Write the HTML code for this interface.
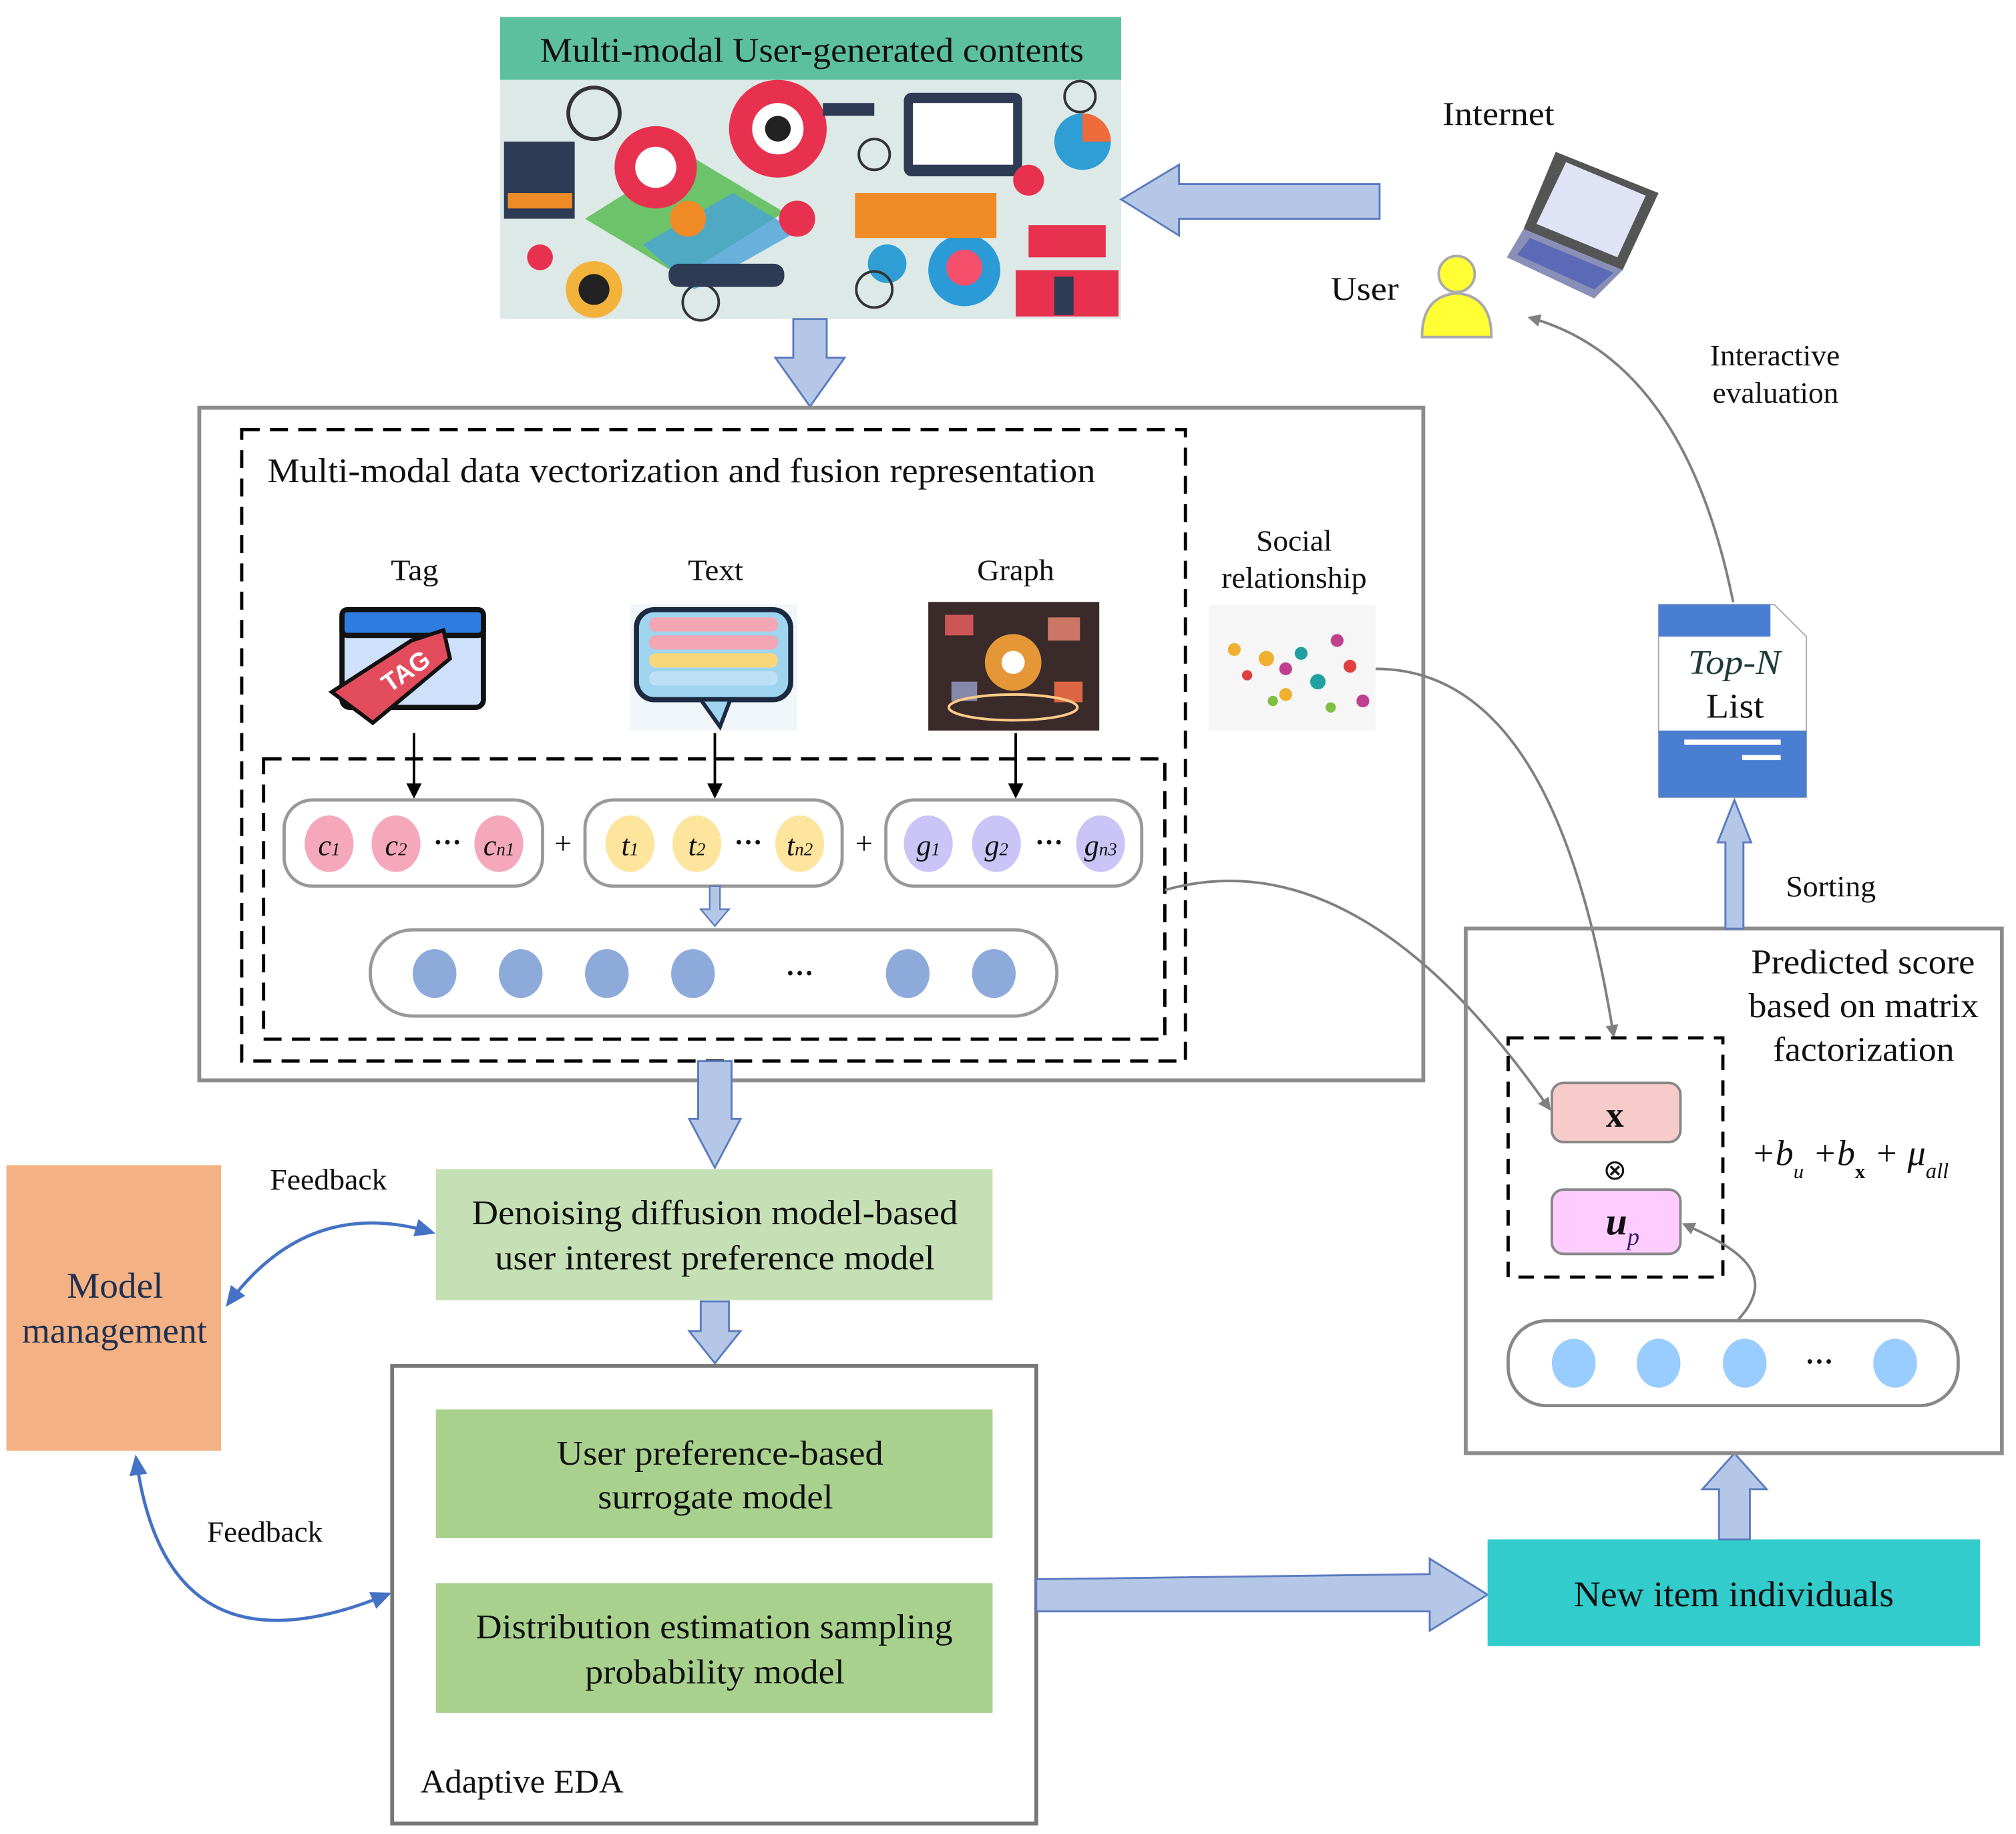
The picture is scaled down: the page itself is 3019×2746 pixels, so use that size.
<!DOCTYPE html>
<html><head><meta charset="utf-8"><style>
html,body{margin:0;padding:0;background:#fff}
svg{display:block}
text{font-family:"Liberation Serif",serif;fill:#111}
</style></head><body>
<svg width="3019" height="2746" viewBox="0 0 1568 1426" xmlns="http://www.w3.org/2000/svg">
<defs>
<marker id="ag" markerWidth="10" markerHeight="10" refX="8" refY="5" orient="auto" markerUnits="userSpaceOnUse"><path d="M0,0 L10,5 L0,10 Z" fill="#808080"/></marker>
<marker id="ak" markerWidth="12" markerHeight="12" refX="10" refY="6" orient="auto" markerUnits="userSpaceOnUse"><path d="M0,0 L12,6 L0,12 Z" fill="#000"/></marker>
<marker id="ab" markerWidth="16" markerHeight="16" refX="12" refY="8" orient="auto" markerUnits="userSpaceOnUse"><path d="M0,1 L16,8 L0,15 Z" fill="#4472c4"/></marker>
<marker id="abs" markerWidth="16" markerHeight="16" refX="4" refY="8" orient="auto" markerUnits="userSpaceOnUse"><path d="M16,1 L0,8 L16,15 Z" fill="#4472c4"/></marker>
</defs>

<rect x="389" y="13" width="483" height="49" fill="#5cc09e"/>
<text x="420" y="48" font-size="27" textLength="423" lengthAdjust="spacingAndGlyphs">Multi-modal User-generated contents</text>
<rect x="389" y="62" width="483" height="186" fill="#dde9e6"/>
<path d="M455,170 L535,120 L610,165 L530,215 Z" fill="#6cc36a"/>
<path d="M500,190 L570,150 L620,180 L540,225 Z" fill="#4aa3d8" opacity="0.8"/>
<circle cx="605" cy="100" r="38" fill="#e8314f"/><circle cx="605" cy="100" r="20" fill="#fff"/><circle cx="605" cy="100" r="10" fill="#222"/>
<circle cx="510" cy="130" r="32" fill="#e8314f"/><circle cx="510" cy="130" r="16" fill="#fff"/>
<circle cx="750" cy="210" r="28" fill="#2a9bd6"/><circle cx="750" cy="208" r="14" fill="#f5506b"/>
<circle cx="462" cy="225" r="22" fill="#f3b23a"/><circle cx="462" cy="225" r="12" fill="#222"/>
<circle cx="462" cy="88" r="20" fill="none" stroke="#333" stroke-width="3"/>
<circle cx="842" cy="110" r="22" fill="#2e9ed5"/><path d="M842,110 L842,88 A22,22 0 0 1 864,110 Z" fill="#f06b3c"/>
<rect x="703" y="72" width="92" height="65" rx="6" fill="#2e3b55"/><rect x="710" y="80" width="78" height="48" fill="#fff"/>
<rect x="665" y="150" width="110" height="35" fill="#f08a25"/><rect x="800" y="175" width="60" height="25" fill="#e8314f"/>
<rect x="392" y="110" width="55" height="60" fill="#2e3b55"/><rect x="395" y="150" width="50" height="12" fill="#f08a25"/>
<circle cx="535" cy="170" r="14" fill="#f08a25"/><circle cx="620" cy="170" r="14" fill="#e8314f"/>
<circle cx="690" cy="205" r="15" fill="#2e9ed5"/><circle cx="800" cy="140" r="12" fill="#e8314f"/>
<rect x="790" y="210" width="80" height="36" fill="#e8314f"/><rect x="820" y="215" width="15" height="30" fill="#2e3b55"/>
<circle cx="545" cy="235" r="14" fill="none" stroke="#333" stroke-width="2"/>
<circle cx="680" cy="225" r="14" fill="none" stroke="#333" stroke-width="2"/>
<rect x="520" y="205" width="90" height="18" rx="8" fill="#2e3b55"/>
<circle cx="420" cy="200" r="10" fill="#e8314f"/><circle cx="680" cy="120" r="12" fill="none" stroke="#333" stroke-width="2"/>
<circle cx="840" cy="75" r="12" fill="none" stroke="#333" stroke-width="2"/><rect x="640" y="80" width="40" height="10" fill="#2e3b55"/>

<path d="M1073,143 L917,143 L917,128 L872,155 L917,183 L917,170 L1073,170 Z" fill="#b4c7e7" stroke="#5b7bbf" stroke-width="1.5"/>
<text x="1122" y="97" font-size="26" textLength="87" lengthAdjust="spacingAndGlyphs">Internet</text>
<path d="M1210,118 L1290,150 L1262,210 L1185,178 Z" fill="#555"/>
<path d="M1218,126 L1280,152 L1258,200 L1195,174 Z" fill="#dfe3f5"/>
<path d="M1185,178 L1262,210 L1240,232 L1172,200 Z" fill="#8a8fb8"/>
<path d="M1190,185 L1255,212 L1240,225 L1180,198 Z" fill="#5b6ab6"/>
<text x="1035" y="233" font-size="26" textLength="53" lengthAdjust="spacingAndGlyphs">User</text>
<circle cx="1133" cy="213" r="14" fill="#ffff33" stroke="#aaa" stroke-width="2"/>
<path d="M1106,262 Q1106,230 1133,228 Q1160,230 1160,262 Z" fill="#ffff33" stroke="#aaa" stroke-width="2"/>
<text x="1330" y="284" font-size="23" textLength="101" lengthAdjust="spacingAndGlyphs">Interactive</text>
<text x="1332" y="313" font-size="23" textLength="98" lengthAdjust="spacingAndGlyphs">evaluation</text>
<path d="M1348,468 Q1310,280 1190,247" fill="none" stroke="#808080" stroke-width="2" marker-end="url(#ag)"/>

<path d="M617,248 L643,248 L643,278 L657,278 L630,316 L603,278 L617,278 Z" fill="#b4c7e7" stroke="#5b7bbf" stroke-width="1.5"/>

<rect x="155" y="317" width="952" height="523" fill="none" stroke="#8c8c8c" stroke-width="3"/>
<rect x="188" y="334" width="734" height="491" fill="none" stroke="#000" stroke-width="2.5" stroke-dasharray="14,8"/>
<text x="208" y="375" font-size="27" textLength="644" lengthAdjust="spacingAndGlyphs">Multi-modal data vectorization and fusion representation</text>
<text x="304" y="451" font-size="23" textLength="37" lengthAdjust="spacingAndGlyphs">Tag</text>
<text x="535" y="451" font-size="23" textLength="43" lengthAdjust="spacingAndGlyphs">Text</text>
<text x="760" y="451" font-size="23" textLength="60" lengthAdjust="spacingAndGlyphs">Graph</text>
<text x="977" y="428" font-size="23" textLength="59" lengthAdjust="spacingAndGlyphs">Social</text>
<text x="950" y="457" font-size="23" textLength="113" lengthAdjust="spacingAndGlyphs">relationship</text>

<rect x="266" y="474" width="110" height="76" rx="6" fill="#cfe0fb" stroke="#111" stroke-width="4"/>
<rect x="266" y="474" width="110" height="20" rx="4" fill="#2f7de1" stroke="#111" stroke-width="4"/>
<path d="M258,538 L320,498 L345,490 L350,512 L290,562 Z" fill="#e34c5c" stroke="#111" stroke-width="3"/>
<text x="300" y="540" font-size="20" font-weight="bold" transform="rotate(-35 300 535)" style="fill:#fff;font-family:'Liberation Sans',sans-serif">TAG</text>
<rect x="490" y="470" width="130" height="98" fill="#f1f6fa"/>
<rect x="495" y="474" width="120" height="70" rx="14" fill="#9fd4ef" stroke="#1b2a40" stroke-width="4"/>
<rect x="505" y="480" width="100" height="11" rx="5" fill="#f3a6b3"/><rect x="505" y="494" width="100" height="11" rx="5" fill="#f3a6b3"/>
<rect x="505" y="508" width="100" height="11" rx="5" fill="#f8d67a"/><rect x="505" y="522" width="100" height="11" rx="5" fill="#bde0f7"/>
<path d="M545,544 L560,565 L568,544 Z" fill="#9fd4ef" stroke="#1b2a40" stroke-width="3"/>
<rect x="722" y="468" width="133" height="100" fill="#3a2a2a"/>
<circle cx="788" cy="515" r="22" fill="#f8a33a" opacity="0.9"/><circle cx="788" cy="515" r="9" fill="#fff"/>
<rect x="735" y="478" width="22" height="16" fill="#c55"/><rect x="815" y="480" width="25" height="18" fill="#c76"/>
<rect x="740" y="530" width="20" height="15" fill="#88a"/><rect x="820" y="530" width="22" height="16" fill="#d64"/>
<ellipse cx="788" cy="550" rx="50" ry="10" fill="none" stroke="#fc8" stroke-width="2"/>
<rect x="940" y="470" width="130" height="98" fill="#f6f6f6"/>
<g fill="#f0b030"><circle cx="960" cy="505" r="5"/><circle cx="985" cy="512" r="6"/><circle cx="1000" cy="540" r="5"/></g>
<g fill="#c04090"><circle cx="1000" cy="520" r="5"/><circle cx="1060" cy="545" r="5"/><circle cx="1040" cy="498" r="5"/></g>
<g fill="#20a0a0"><circle cx="1025" cy="530" r="6"/><circle cx="1012" cy="508" r="5"/></g>
<g fill="#e04040"><circle cx="1050" cy="518" r="5"/><circle cx="970" cy="525" r="4"/></g>
<g fill="#80c040"><circle cx="990" cy="545" r="4"/><circle cx="1035" cy="550" r="4"/></g>

<rect x="205" y="590" width="701" height="218" fill="none" stroke="#000" stroke-width="2.5" stroke-dasharray="14,8"/>
<line x1="322" y1="570" x2="322" y2="619" stroke="#000" stroke-width="2" marker-end="url(#ak)"/>
<line x1="556" y1="570" x2="556" y2="619" stroke="#000" stroke-width="2" marker-end="url(#ak)"/>
<line x1="790" y1="570" x2="790" y2="619" stroke="#000" stroke-width="2" marker-end="url(#ak)"/>

<rect x="221" y="622" width="201" height="67" rx="22" fill="#fff" stroke="#999" stroke-width="2.5"/>
<rect x="455" y="622" width="200" height="67" rx="22" fill="#fff" stroke="#999" stroke-width="2.5"/>
<rect x="689" y="622" width="199" height="67" rx="22" fill="#fff" stroke="#999" stroke-width="2.5"/>
<g fill="#f5a8bb"><ellipse cx="256" cy="656" rx="19" ry="22"/><ellipse cx="308" cy="656" rx="19" ry="22"/><ellipse cx="388" cy="656" rx="19" ry="22"/></g>
<g fill="#fde59e"><ellipse cx="490" cy="656" rx="19" ry="22"/><ellipse cx="542" cy="656" rx="19" ry="22"/><ellipse cx="622" cy="656" rx="19" ry="22"/></g>
<g fill="#cac5f6"><ellipse cx="722" cy="656" rx="19" ry="22"/><ellipse cx="775" cy="656" rx="19" ry="22"/><ellipse cx="856" cy="656" rx="19" ry="22"/></g>
<g font-size="23" font-style="italic" text-anchor="middle">
<text x="256" y="665">c<tspan font-size="14">1</tspan></text><text x="308" y="665">c<tspan font-size="14">2</tspan></text><text x="388" y="665">c<tspan font-size="14">n1</tspan></text>
<text x="490" y="665">t<tspan font-size="14">1</tspan></text><text x="542" y="665">t<tspan font-size="14">2</tspan></text><text x="622" y="665">t<tspan font-size="14">n2</tspan></text>
<text x="722" y="665">g<tspan font-size="14">1</tspan></text><text x="775" y="665">g<tspan font-size="14">2</tspan></text><text x="856" y="665">g<tspan font-size="14">n3</tspan></text>
</g>
<g font-size="22" text-anchor="middle" font-weight="bold"><text x="348" y="662">···</text><text x="582" y="662">···</text><text x="816" y="662">···</text></g>
<text x="438" y="664" font-size="24" text-anchor="middle">+</text>
<text x="672" y="664" font-size="24" text-anchor="middle">+</text>
<path d="M552,689 L560,689 L560,707 L567,707 L556,720 L545,707 L552,707 Z" fill="#b4c7e7" stroke="#5b7bbf" stroke-width="1.2"/>
<rect x="288" y="723" width="534" height="67" rx="33" fill="#fff" stroke="#999" stroke-width="2.5"/>
<g fill="#8eaadb"><ellipse cx="338" cy="757" rx="17" ry="19"/><ellipse cx="405" cy="757" rx="17" ry="19"/><ellipse cx="472" cy="757" rx="17" ry="19"/><ellipse cx="539" cy="757" rx="17" ry="19"/><ellipse cx="706" cy="757" rx="17" ry="19"/><ellipse cx="773" cy="757" rx="17" ry="19"/></g>
<text x="622" y="764" font-size="22" text-anchor="middle" font-weight="bold">···</text>

<path d="M1070,520 C1180,520 1230,650 1255,805" fill="none" stroke="#808080" stroke-width="2" marker-end="url(#ag)"/>
<path d="M906,692 C1020,660 1120,740 1205,862" fill="none" stroke="#808080" stroke-width="2" marker-end="url(#ag)"/>

<path d="M543,825 L569,825 L569,870 L576,870 L556,908 L536,870 L543,870 Z" fill="#b4c7e7" stroke="#5b7bbf" stroke-width="1.5"/>
<rect x="339" y="909" width="433" height="102" fill="#c5e0b4"/>
<text x="367" y="952" font-size="27" textLength="378" lengthAdjust="spacingAndGlyphs">Denoising diffusion model-based</text>
<text x="385" y="987" font-size="27" textLength="342" lengthAdjust="spacingAndGlyphs">user interest preference model</text>
<path d="M545,1012 L567,1012 L567,1035 L576,1035 L556,1060 L536,1035 L545,1035 Z" fill="#b4c7e7" stroke="#5b7bbf" stroke-width="1.5"/>

<rect x="5" y="906" width="167" height="222" fill="#f4b183"/>
<text x="52" y="1009" font-size="28" textLength="75" lengthAdjust="spacingAndGlyphs" style="fill:#1f3050">Model</text>
<text x="17" y="1044" font-size="28" textLength="144" lengthAdjust="spacingAndGlyphs" style="fill:#1f3050">management</text>
<text x="210" y="925" font-size="23" textLength="91" lengthAdjust="spacingAndGlyphs">Feedback</text>
<text x="161" y="1199" font-size="23" textLength="90" lengthAdjust="spacingAndGlyphs">Feedback</text>
<path d="M178,1013 Q240,930 335,958" fill="none" stroke="#4472c4" stroke-width="2.5" marker-start="url(#abs)" marker-end="url(#ab)"/>
<path d="M106,1135 Q130,1310 301,1240" fill="none" stroke="#4472c4" stroke-width="2.5" marker-start="url(#abs)" marker-end="url(#ab)"/>

<rect x="305" y="1062" width="501" height="356" fill="none" stroke="#777" stroke-width="3"/>
<rect x="339" y="1096" width="433" height="100" fill="#a9d18e"/>
<text x="433" y="1139" font-size="27" textLength="254" lengthAdjust="spacingAndGlyphs">User preference-based</text>
<text x="465" y="1173" font-size="27" textLength="183" lengthAdjust="spacingAndGlyphs">surrogate model</text>
<rect x="339" y="1231" width="433" height="101" fill="#a9d18e"/>
<text x="370" y="1274" font-size="27" textLength="371" lengthAdjust="spacingAndGlyphs">Distribution estimation sampling</text>
<text x="455" y="1309" font-size="27" textLength="202" lengthAdjust="spacingAndGlyphs">probability model</text>
<text x="327" y="1394" font-size="26" textLength="158" lengthAdjust="spacingAndGlyphs">Adaptive EDA</text>

<path d="M806,1228 L1112,1224 L1112,1212 L1157,1240 L1112,1268 L1112,1253 L806,1253 Z" fill="#b4c7e7" stroke="#5b7bbf" stroke-width="1.5"/>
<rect x="1157" y="1197" width="383" height="83" fill="#33cccc"/>
<text x="1224" y="1249" font-size="28" textLength="249" lengthAdjust="spacingAndGlyphs">New  item individuals</text>
<path d="M1337,1197 L1361,1197 L1361,1158 L1374,1158 L1349,1130 L1324,1158 L1337,1158 Z" fill="#b4c7e7" stroke="#5b7bbf" stroke-width="1.5"/>

<rect x="1140" y="722" width="417" height="408" fill="none" stroke="#8c8c8c" stroke-width="3"/>
<text x="1362" y="757" font-size="27" textLength="174" lengthAdjust="spacingAndGlyphs">Predicted score</text>
<text x="1360" y="791" font-size="27" textLength="179" lengthAdjust="spacingAndGlyphs">based on matrix</text>
<text x="1379" y="825" font-size="27" textLength="141" lengthAdjust="spacingAndGlyphs">factorization</text>
<rect x="1173" y="807" width="167" height="186" fill="none" stroke="#000" stroke-width="2.5" stroke-dasharray="12,8"/>
<rect x="1207" y="842" width="100" height="46" rx="9" fill="#f8cbcb" stroke="#888" stroke-width="2"/>
<text x="1256" y="876" font-size="28" font-weight="bold" text-anchor="middle">x</text>
<text x="1256" y="917" font-size="22" text-anchor="middle">⊗</text>
<rect x="1207" y="925" width="100" height="50" rx="9" fill="#ffccff" stroke="#888" stroke-width="2"/>
<text x="1262" y="960" font-size="30" font-weight="bold" font-style="italic" text-anchor="middle">u<tspan font-size="19" dy="8" font-weight="normal" style="fill:#3a1a6a">p</tspan></text>
<text x="1362" y="906" font-size="28" font-style="italic">+b<tspan font-size="16" dy="10">u</tspan><tspan dy="-10"> +b</tspan><tspan font-size="16" dy="10" font-style="normal" font-weight="bold">x</tspan><tspan dy="-10"> + μ</tspan><tspan font-size="17" dy="10">all</tspan></text>
<path d="M1352,1026 C1385,990 1350,970 1310,952" fill="none" stroke="#808080" stroke-width="2" marker-end="url(#ag)"/>
<rect x="1173" y="1027" width="350" height="66" rx="30" fill="#fff" stroke="#888" stroke-width="2.5"/>
<g fill="#99ccff"><ellipse cx="1224" cy="1060" rx="17" ry="19"/><ellipse cx="1290" cy="1060" rx="17" ry="19"/><ellipse cx="1357" cy="1060" rx="17" ry="19"/><ellipse cx="1474" cy="1060" rx="17" ry="19"/></g>
<text x="1415" y="1066" font-size="22" font-weight="bold" text-anchor="middle">···</text>

<path d="M1342,722 L1356,722 L1356,655 L1362,655 L1349,622 L1336,655 L1342,655 Z" fill="#b4c7e7" stroke="#5b7bbf" stroke-width="1.5"/>
<text x="1389" y="697" font-size="23" textLength="70" lengthAdjust="spacingAndGlyphs">Sorting</text>

<path d="M1290,470 L1380,470 L1405,495 L1405,620 L1290,620 Z" fill="#fff" stroke="#aab" stroke-width="1"/>
<rect x="1290" y="470" width="87" height="25" fill="#4a7ed0"/>
<rect x="1290" y="568" width="115" height="52" fill="#4a7ed0"/>
<rect x="1310" y="575" width="75" height="4" fill="#fff"/><rect x="1355" y="587" width="30" height="4" fill="#fff"/>
<text x="1313" y="524" font-size="27" font-style="italic" textLength="72" lengthAdjust="spacingAndGlyphs" style="fill:#1f3a3a">Top-N</text>
<text x="1327" y="558" font-size="27" textLength="45" lengthAdjust="spacingAndGlyphs">List</text>
</svg>
</body></html>
